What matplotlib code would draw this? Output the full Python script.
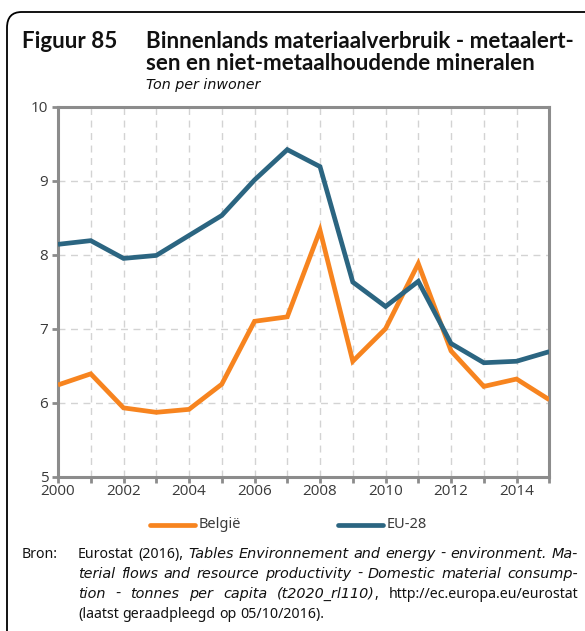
import matplotlib
matplotlib.use("Agg")
import matplotlib.pyplot as plt
from matplotlib.patches import FancyBboxPatch
from matplotlib.lines import Line2D

years = list(range(2000, 2016))
belgie = [6.24, 6.39, 5.93, 5.87, 5.91, 6.25, 7.10, 7.16, 8.33, 6.56, 7.00, 7.88, 6.70, 6.22, 6.32, 6.04]
eu28 = [8.14, 8.19, 7.95, 7.99, 8.26, 8.53, 9.01, 9.42, 9.19, 7.63, 7.30, 7.64, 6.80, 6.54, 6.56, 6.69]
xtick_labels = ["2000", "2002", "2004", "2006", "2008", "2010", "2012", "2014"]
ytick_values = [5, 6, 7, 8, 9, 10]
series_names = ["België", "EU-28"]

ORANGE = "#F7841F"
TEAL = "#2B6581"
GRAY = "#8C8C8C"
TXT = "#3A3A3A"
TICKFONT = "Open Sans"
TFONT = "Lato"
RFONT = "Noto Sans"
IFONT = "DejaVu Sans"

W, H = 585, 631
fig = plt.figure(figsize=(W / 100, H / 100), dpi=100)
fig.canvas.draw()
R = fig.canvas.get_renderer()

def fx(px):
    return px / W

def fy(py):
    return 1 - py / H

def width_px(txt, **kw):
    t = fig.text(0, 0, txt, **kw)
    w = t.get_window_extent(R).width
    t.remove()
    return w

# frame
frame = FancyBboxPatch((fx(7), fy(700)), fx(640), fy(12) - fy(700),
                       boxstyle="round,pad=0,rounding_size=0.025",
                       transform=fig.transFigure, fill=False,
                       edgecolor="black", linewidth=1.3, clip_on=False)
fig.patches.append(frame)

# titles (size fitted to the reference line width)
title1 = "Binnenlands materiaalverbruik - metaalert-"
title2 = "sen en niet-metaalhoudende mineralen"
w14 = width_px(title1, fontsize=14, fontweight="bold", family=TFONT)
tsize = 14 * 432 / w14
tkw = dict(fontsize=tsize, fontweight="bold", family=TFONT, color="#111111",
           va="baseline")
fig.text(fx(22), fy(48), "Figuur 85", **tkw)
fig.text(fx(146), fy(48), title1, **tkw)
fig.text(fx(146), fy(70), title2, **tkw)
fig.text(fx(146), fy(89), "Ton per inwoner", fontsize=10.3, style="italic",
         family=IFONT, color="#111111", va="baseline")

# axes
ax = fig.add_axes([fx(58), fy(476.7), fx(549.3) - fx(58), fy(106.7) - fy(476.7)])
ax.plot(years, belgie, color=ORANGE, linewidth=3.4, solid_joinstyle="miter",
        solid_capstyle="butt", zorder=3)
ax.plot(years, eu28, color=TEAL, linewidth=3.4, solid_joinstyle="miter",
        solid_capstyle="butt", zorder=3)
ax.set_xlim(2000, 2015)
ax.set_ylim(5, 10)
ax.set_xticks(years)
ax.set_xticklabels([str(y) if str(y) in xtick_labels else "" for y in years])
ax.set_yticks(ytick_values)
ax.set_yticklabels([str(v) for v in ytick_values])
ax.grid(True, color="#D3D3D3", linestyle=(0, (5, 4)), linewidth=1.0, zorder=0)
for s in ax.spines.values():
    s.set_color(GRAY)
    s.set_linewidth(2.2)
ax.tick_params(axis="both", colors=GRAY, length=4, width=2.0,
               labelcolor=TXT, labelsize=11)
ax.tick_params(axis="x", pad=1)
ax.tick_params(axis="y", pad=3)
for lab in ax.get_xticklabels() + ax.get_yticklabels():
    lab.set_family(TICKFONT)

# legend
ly = fy(525)
fig.add_artist(Line2D([fx(150), fx(195)], [ly, ly], color=ORANGE, linewidth=3.4,
                      solid_capstyle="round", transform=fig.transFigure))
fig.text(fx(199), ly, series_names[0], fontsize=10.5, family=RFONT, color=TXT,
         va="center")
fig.add_artist(Line2D([fx(338), fx(383)], [ly, ly], color=TEAL, linewidth=3.4,
                      solid_capstyle="round", transform=fig.transFigure))
fig.text(fx(387), ly, series_names[1], fontsize=10.5, family=RFONT, color=TXT,
         va="center")

# source (justified lines, mixed italic)
SFS = 10.2
def skw(italic):
    if italic:
        return dict(fontsize=10.4, family=IFONT, color="#111111",
                    style="italic", va="baseline")
    return dict(fontsize=SFS, family=RFONT, color="#111111",
                style="normal", va="baseline")

fig.text(fx(22), fy(558), "Bron:", **skw(False))

lines = [
    [[("Eurostat", False)], [("(2016),", False)], [("Tables", True)],
     [("Environnement", True)], [("and", True)], [("energy", True)], [("-", True)],
     [("environment.", True)], [("Ma-", True)]],
    [[(w, True)] for w in "terial flows and resource productivity - Domestic material consump-".split()],
    [[(w, True)] for w in "tion - tonnes per capita".split()] +
    [[("(t2020_rl110)", True), (",", False)], [("http://ec.europa.eu/eurostat", False)]],
    [[(w, False)] for w in "(laatst geraadpleegd op 05/10/2016).".split()],
]
justify = [True, True, True, False]
ybases = [558, 578, 598, 618]
X0, X1 = 78, 578
space_w = width_px("a b", **skw(False)) - width_px("ab", **skw(False))

for words, just, yb in zip(lines, justify, ybases):
    wws = []
    for word in words:
        wws.append(sum(width_px(t, **skw(it)) for t, it in word))
    if just and len(words) > 1:
        gap = (X1 - X0 - sum(wws)) / (len(words) - 1)
    else:
        gap = space_w
    x = X0
    for word, ww in zip(words, wws):
        xx = x
        for t, it in word:
            fig.text(fx(xx), fy(yb), t, **skw(it))
            xx += width_px(t, **skw(it))
        x += ww + gap

fig.savefig("out.png", dpi=100)
